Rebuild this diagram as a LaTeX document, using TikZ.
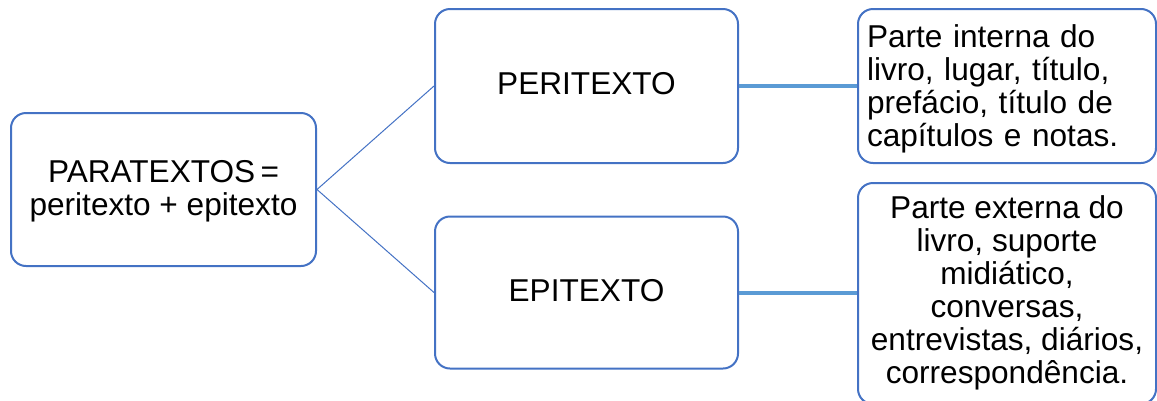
\documentclass[tikz,border=0pt]{standalone}
\usepackage{fontspec}
\setmainfont{Liberation Sans}
\definecolor{boxblue}{RGB}{68,114,196}
\definecolor{linkblue}{RGB}{91,155,213}
\begin{document}
\begin{tikzpicture}[x=1pt,y=-1pt,
  box/.style={draw=boxblue, line width=2pt, rounded corners=15pt, fill=white,
    font=\fontsize{31.6}{33}\selectfont, inner sep=0pt},
  thinlink/.style={draw=boxblue, line width=1pt},
  thicklink/.style={draw=linkblue, line width=4pt}]
\useasboundingbox (0,0) rectangle (1157,400);
\node[box, minimum width=305pt, minimum height=153pt, align=center] (para) at (163.5,189.5)
  {\rule{0pt}{25pt}PARATEXTOS\,=\\peritexto + epitexto};
\node[box, minimum width=303pt, minimum height=154pt] (peri) at (586.5,86)
  {\rule[-5pt]{0pt}{0pt}PERITEXTO};
\node[box, minimum width=303pt, minimum height=152pt] (epi) at (586.5,292.5)
  {\rule[-5pt]{0pt}{0pt}EPITEXTO};
\node[box, minimum width=298pt, minimum height=154pt, text width=280pt, align=left] (rtop) at (1007,86)
  {\rule{0pt}{28pt}Parte interna do\\livro, lugar, título,\\prefácio, título de\\capítulos e notas.};
\node[box, minimum width=298pt, minimum height=221pt, align=center] (rbot) at (1007,293.5)
  {Parte externa do\\livro, suporte\\midiático,\\conversas,\\entrevistas, diários,\\correspondência.\rule[-7.5pt]{0pt}{0pt}};
\draw[thinlink] (para.east) -- (peri.west);
\draw[thinlink] (para.east) -- (epi.west);
\draw[thicklink] (peri.east) -- (rtop.west);
\draw[thicklink] (epi.east) -- (rbot.west |- epi.east);
\end{tikzpicture}
\end{document}
